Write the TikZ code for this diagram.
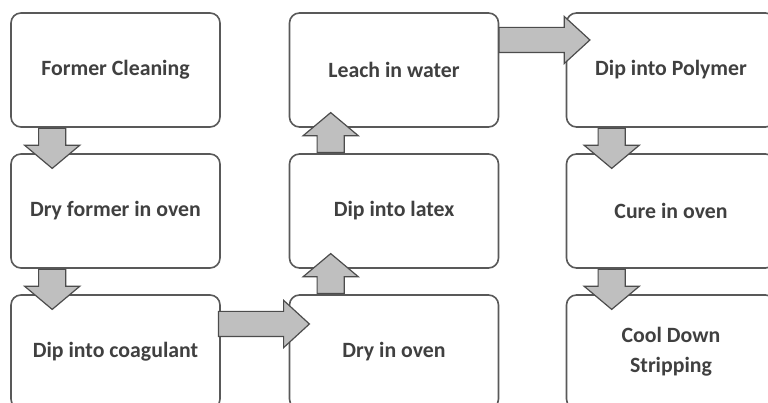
\documentclass[tikz,border=0pt]{standalone}
\usepackage{fontspec}
\setmainfont{Carlito}
\usetikzlibrary{shapes.arrows,calc}

\begin{document}
\begin{tikzpicture}[x=1pt, y=1pt,
  font=\fontsize{21.8}{30}\selectfont\bfseries,
  box/.style={draw=black!65, line width=1.6pt, rounded corners=10pt, fill=white, text=black!75, minimum width=209pt, minimum height=114pt, align=center},
  varr/.style={single arrow, draw=black!70, line width=1.2pt, fill=black!25, inner xsep=0pt, inner ysep=13pt, minimum height=40pt, single arrow head extend=14pt, single arrow tip angle=100},
  harr/.style={varr, inner ysep=12pt, minimum height=91pt, single arrow head extend=11pt, single arrow tip angle=85}
]
\useasboundingbox (0,0) rectangle (768,403);
\clip (0,0) rectangle (768,403);
\fill[white] (0,0) rectangle (768,403);

% Column 1
\node[box] (clean) at (115.5,333) {Former Cleaning};
\node[box] (dryformer) at (115.5,192) {Dry former in oven};
\node[box] (coag) at (115.5,51) {Dip into coagulant};

% Column 2
\node[box] (leach) at (394,333) {Leach in water};
\node[box] (latex) at (394,192) {Dip into latex};
\node[box] (dryoven) at (394,51) {Dry in oven};

% Column 3
\node[box] (polymer) at (671,333) {Dip into Polymer};
\node[box] (cure) at (671,192) {Cure in oven};
\node[box] (cool) at (671,51) {Cool Down\\Stripping};

% Block arrows
\node[varr, rotate=-90, anchor=tail] (a1) at ($(clean.south west)+(42,0)$) {};
\node[varr, rotate=-90, anchor=tail] (a2) at ($(dryformer.south west)+(42,0)$) {};
\node[harr, anchor=tail] (a3) at ($(coag.east)+(-3,28)$) {};
\node[varr, rotate=90, anchor=tail] (a4) at ($(dryoven.north west)+(42,0)$) {};
\node[varr, rotate=90, anchor=tail] (a5) at ($(latex.north west)+(42,0)$) {};
\node[harr, anchor=tail] (a6) at ($(leach.east)+(-1,30)$) {};
\node[varr, rotate=-90, anchor=tail] (a7) at ($(polymer.south west)+(46,0)$) {};
\node[varr, rotate=-90, anchor=tail] (a8) at ($(cure.south west)+(46,0)$) {};
\end{tikzpicture}
\end{document}
